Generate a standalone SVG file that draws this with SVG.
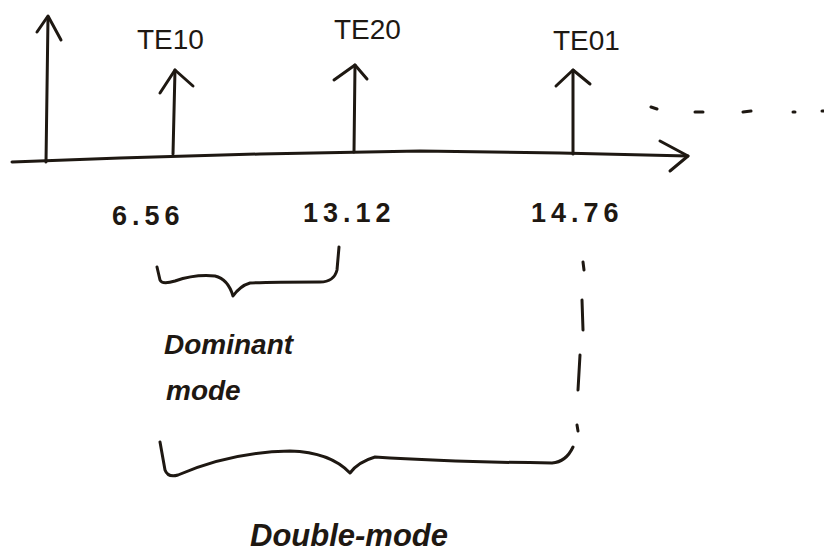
<svg xmlns="http://www.w3.org/2000/svg" width="824" height="553" viewBox="0 0 824 553">
<style>
.ln{fill:none;stroke:#1e1812;stroke-width:3;stroke-linecap:round;stroke-linejoin:round}
.lbl{font-family:"Liberation Sans",Arial,sans-serif;fill:#1e1812;font-size:28px}
.num{font-family:"Liberation Sans",Arial,sans-serif;fill:#1e1812;font-size:27px;font-weight:bold;letter-spacing:5px}
.hand{font-family:"Liberation Sans",Arial,sans-serif;fill:#1e1812;font-style:italic;font-weight:bold}
</style>
<rect width="824" height="553" fill="#ffffff"/>
<g id="connectors">
  <path class="ln" d="M12,162 L120,158 L260,154 L420,151 L560,153 L688,156"/>
  <path class="ln" d="M660,141 L688,156 L670,171"/>
  <path class="ln" d="M46,162 L48,17"/>
  <path class="ln" d="M37,32 L48,16 L61,40"/>
  <path class="ln" d="M173,154 L175,70"/>
  <path class="ln" d="M160,93 L175,70 L193,86"/>
  <path class="ln" d="M354,152 L355,65"/>
  <path class="ln" d="M334,80 L355,65 L367,79"/>
  <path class="ln" d="M573,154 L573,70"/>
  <path class="ln" d="M556,86 L573,70 L590,84"/>
  <path class="ln" d="M651,107 L657,109 M695,112 L703,112 M743,112 L751,111 M793,112 L795,112 M822,111 L824,111"/>
  <path class="ln" d="M583,262 L584,270 M582,300 L583,330 M580,355 L578,390 M577,425 L578,431" stroke-width="2.5"/>
</g>
<g id="node-origin"/>
<g id="node-te10"><text class="lbl" x="137" y="49">TE10</text></g>
<g id="node-te20"><text class="lbl" x="334" y="39">TE20</text></g>
<g id="node-te01"><text class="lbl" x="553" y="50">TE01</text></g>
<g id="node-n1"><text class="num" x="112" y="225">6.56</text></g>
<g id="node-n2"><text class="num" x="303" y="222">13.12</text></g>
<g id="node-n3"><text class="num" x="531" y="222">14.76</text></g>
<g id="node-dominant">
  <path class="ln" d="M157,267 L160,280 Q162,285 175,281 Q195,274 215,276 Q228,279 233,296 Q240,286 250,283 Q270,282 320,282 Q334,282 337,270 L339,247"/>
  <text class="hand" x="164" y="354" font-size="28">Dominant</text>
  <text class="hand" x="166" y="400" font-size="28">mode</text>
</g>
<g id="node-double">
  <path class="ln" d="M160,442 L165,470 Q168,478 178,475 Q230,452 290,451 Q330,452 350,473 Q358,462 375,457 Q450,462 552,463 Q566,462 573,447"/>
  <text class="hand" x="250" y="546" font-size="31">Double-mode</text>
</g>
</svg>
